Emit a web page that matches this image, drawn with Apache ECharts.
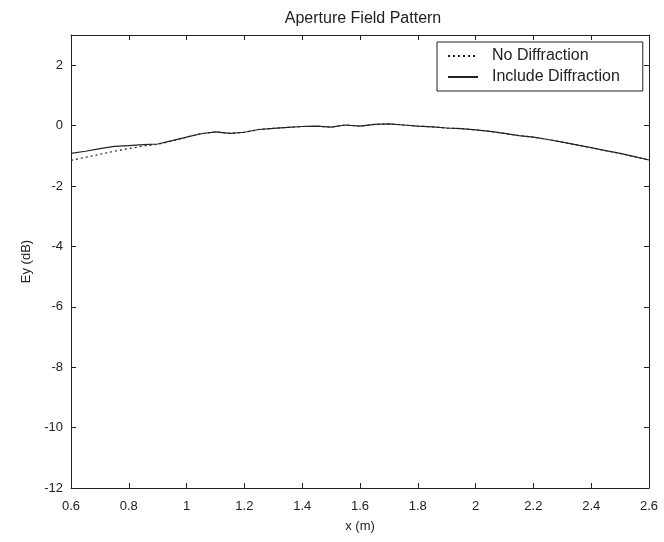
<!DOCTYPE html>
<html><head><meta charset="utf-8">
<script src="https://cdn.jsdelivr.net/npm/echarts@6/dist/echarts.min.js"></script>
<style>html,body{margin:0;padding:0;background:#fff}#c{width:664px;height:542px}</style>
</head><body><div id="c"></div>
<script>
const xs = [0.60,0.65,0.70,0.75,0.80,0.85,0.90,0.95,1.00,1.05,1.10,1.15,1.20,1.25,1.30,1.35,1.40,1.45,1.50,1.55,1.60,1.65,1.70,1.75,1.80,1.85,1.90,1.95,2.00,2.05,2.10,2.15,2.20,2.25,2.30,2.35,2.40,2.45,2.50,2.55,2.60];
const includeDiff = [-0.92,-0.85,-0.76,-0.69,-0.66,-0.63,-0.61,-0.50,-0.38,-0.27,-0.21,-0.26,-0.22,-0.13,-0.09,-0.06,-0.03,-0.02,-0.05,0.02,-0.02,0.04,0.06,0.02,-0.02,-0.04,-0.08,-0.10,-0.14,-0.19,-0.26,-0.33,-0.38,-0.46,-0.55,-0.64,-0.73,-0.83,-0.92,-1.03,-1.14];
const noDiff = [-1.15,-1.05,-0.95,-0.85,-0.76,-0.68,-0.62,-0.51,-0.38,-0.27,-0.21,-0.26,-0.22,-0.13,-0.09,-0.06,-0.03,-0.02,-0.05,0.02,-0.02,0.04,0.06,0.02,-0.02,-0.04,-0.08,-0.10,-0.14,-0.19,-0.26,-0.33,-0.38,-0.46,-0.55,-0.64,-0.73,-0.83,-0.92,-1.03,-1.14];
const seriesNames = ['No Diffraction','Include Diffraction'];
const titleText = 'Aperture Field Pattern';

const font = 'Liberation Sans, Arial, sans-serif';
const ink = '#222';
const pairs = a => xs.map((x,i)=>[x,a[i]]);
const axisBase = {
  axisLine:{show:true,onZero:false,lineStyle:{color:ink,width:1}},
  axisTick:{show:true,inside:true,length:5,lineStyle:{color:ink}},
  splitLine:{show:false}
};
const chart = echarts.init(document.getElementById('c'));
chart.setOption({
  backgroundColor:'#fff',
  animation:false,
  title:{text:titleText,left:358,top:6,textAlign:'center',textStyle:{fontFamily:font,fontSize:16,fontWeight:'normal',color:ink}},
  grid:{left:71,right:15,top:35,bottom:54,containLabel:false},
  legend:{
    show:true,orient:'vertical',left:437,top:42,
    backgroundColor:'#fff',borderColor:ink,borderWidth:1,borderRadius:0,
    padding:[6,23,6,10],itemGap:5,itemWidth:30,itemHeight:14,
    itemStyle:{opacity:0},
    textStyle:{fontFamily:font,fontSize:16,color:ink,padding:[0,0,0,9]},
    data:seriesNames
  },
  xAxis:[
    Object.assign({type:'value',min:0.6,max:2.6,interval:0.2,position:'bottom',
      name:'x (m)',nameLocation:'middle',nameGap:32,
      nameTextStyle:{fontFamily:font,fontSize:13,color:ink},
      axisLabel:{fontFamily:font,fontSize:13,color:ink,margin:12,formatter:v=>String(+v.toFixed(1))}},axisBase),
    Object.assign({type:'value',min:0.6,max:2.6,interval:0.2,position:'top',axisLabel:{show:false}},axisBase)
  ],
  yAxis:[
    Object.assign({type:'value',min:-12,max:3,interval:2,position:'left',
      name:'Ey (dB)',nameLocation:'middle',nameGap:34,
      nameTextStyle:{fontFamily:font,fontSize:13,color:ink},
      axisLabel:{fontFamily:font,fontSize:13,color:ink,margin:8,
        formatter:v=>(v%2===0?String(v):'')}},axisBase),
    Object.assign({type:'value',min:-12,max:3,interval:2,position:'right',axisLabel:{show:false}},axisBase)
  ],
  series:[
    {name:seriesNames[0],type:'line',xAxisIndex:0,yAxisIndex:0,data:pairs(noDiff),showSymbol:false,symbol:'none',
      lineStyle:{color:ink,width:1.2,type:[2,3]},itemStyle:{color:ink}},
    {name:seriesNames[1],type:'line',xAxisIndex:0,yAxisIndex:0,data:pairs(includeDiff),showSymbol:false,symbol:'none',
      lineStyle:{color:ink,width:1.2,type:'solid'},itemStyle:{color:ink}}
  ]
});
</script></body></html>
